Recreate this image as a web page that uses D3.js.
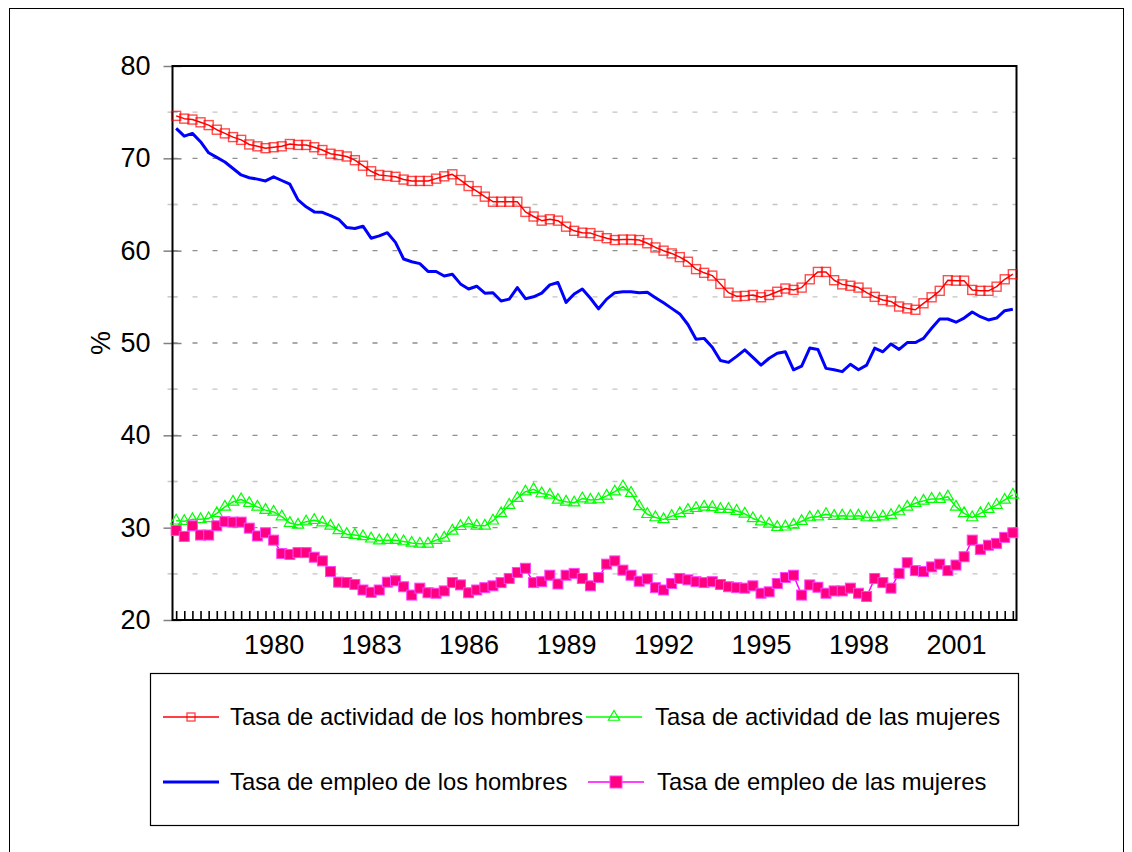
<!DOCTYPE html>
<html lang="es">
<head>
<meta charset="UTF-8">
<title>Tasas de actividad y empleo</title>
<script src="https://d3js.org/d3.v7.min.js"></script>
<style>
    body { margin: 0; background: #fff; }
    svg { display: block; font-family: "Liberation Sans", Arial, sans-serif; }
    .tick-label { font-size: 27px; fill: #000; }
    .legend-label { font-size: 23.8px; fill: #000; }
</style>
</head>
<body>
<div id="chart"></div>
<script>
// quarterly series, 1977-I .. 2002-IV
const firstYear = 1977;
const lastYear = 2002;
const quarterNames = ["I", "II", "III", "IV"];

const yearLabels = ["1980", "1983", "1986", "1989", "1992", "1995", "1998", "2001"];
const yTicks = [20, 30, 40, 50, 60, 70, 80];
const yMinorTicks = [25, 35, 45, 55, 65, 75];

const actHombres = [
    74.6, 74.3, 74.2, 73.9, 73.6, 73.1, 72.7, 72.3, 72.0, 71.5, 71.3, 71.1, 71.2, 71.3, 71.55, 71.45,
    71.45, 71.2, 70.9, 70.5, 70.35, 70.2, 69.8, 69.2, 68.6, 68.2, 68.1, 68.0, 67.7, 67.55, 67.55, 67.55,
    67.8, 68.05, 68.27, 67.65, 67.0, 66.45, 65.85, 65.3, 65.3, 65.3, 65.3, 64.2, 63.7, 63.25, 63.4, 63.25,
    62.6, 62.15, 61.95, 61.9, 61.6, 61.35, 61.15, 61.2, 61.2, 61.15, 60.8, 60.35, 60.0, 59.7, 59.3, 58.8,
    58.0, 57.6, 57.3, 56.4, 55.45, 55.05, 55.1, 55.2, 54.95, 55.2, 55.55, 55.9, 55.75, 56.0, 56.9, 57.7,
    57.7, 56.8, 56.35, 56.2, 56.0, 55.45, 55.0, 54.65, 54.5, 53.95, 53.75, 53.6, 54.3, 54.95, 55.65, 56.8,
    56.75, 56.75, 55.75, 55.65, 55.65, 56.1, 56.9, 57.45
];
const actMujeres = [
    30.75, 30.7, 30.9, 30.9, 31.0, 31.55, 32.25, 32.8, 33.05, 32.65, 32.25, 31.9, 31.7, 31.2, 30.5, 30.3,
    30.65, 30.8, 30.55, 30.2, 29.7, 29.3, 29.2, 29.05, 28.8, 28.6, 28.65, 28.65, 28.5, 28.35, 28.25, 28.25,
    28.65, 28.9, 29.65, 30.15, 30.45, 30.2, 30.2, 30.75, 31.55, 32.45, 33.2, 33.9, 34.15, 33.7, 33.55, 33.0,
    32.8, 32.7, 33.15, 33.0, 33.05, 33.45, 33.9, 34.45, 33.75, 32.3, 31.45, 31.1, 30.9, 31.25, 31.55, 31.9,
    32.1, 32.25, 32.2, 32.0, 32.0, 31.8, 31.5, 31.0, 30.65, 30.4, 30.05, 30.1, 30.3, 30.7, 31.1, 31.2,
    31.45, 31.25, 31.3, 31.25, 31.3, 31.1, 31.1, 31.2, 31.35, 31.75, 32.25, 32.65, 32.9, 33.1, 33.1, 33.35,
    32.25, 31.55, 31.1, 31.55, 32.0, 32.45, 33.0, 33.55
];
const empHombres = [
    73.25, 72.4, 72.7, 71.8, 70.6, 70.1, 69.6, 68.9, 68.2, 67.9, 67.75, 67.55, 68.0, 67.6, 67.2, 65.5,
    64.75, 64.2, 64.15, 63.8, 63.4, 62.5, 62.4, 62.65, 61.35, 61.6, 61.95, 60.9, 59.1, 58.8, 58.6, 57.75,
    57.75, 57.25, 57.45, 56.4, 55.85, 56.15, 55.4, 55.45, 54.55, 54.75, 56.0, 54.8, 55.0, 55.4, 56.3, 56.55,
    54.4, 55.3, 55.85, 54.85, 53.7, 54.75, 55.45, 55.55, 55.55, 55.45, 55.5, 54.9, 54.35, 53.75, 53.15, 52.0,
    50.4, 50.5, 49.55, 48.1, 47.9, 48.55, 49.25, 48.45, 47.6, 48.35, 48.9, 49.05, 47.1, 47.5, 49.45, 49.3,
    47.25, 47.1, 46.9, 47.7, 47.1, 47.6, 49.45, 49.05, 49.9, 49.3, 50.05, 50.05, 50.5, 51.6, 52.6, 52.6,
    52.25, 52.7, 53.35, 52.85, 52.5, 52.7, 53.5, 53.65
];
const empMujeres = [
    29.7, 29.05, 30.2, 29.2, 29.2, 30.2, 30.65, 30.6, 30.6, 29.95, 29.1, 29.45, 28.65, 27.2, 27.1, 27.3,
    27.3, 26.8, 26.4, 25.25, 24.1, 24.05, 23.85, 23.25, 23.0, 23.25, 24.1, 24.25, 23.6, 22.7, 23.45, 22.95,
    22.9, 23.15, 24.05, 23.8, 22.95, 23.25, 23.5, 23.7, 24.05, 24.5, 25.15, 25.6, 24.05, 24.15, 24.85, 23.9,
    24.85, 25.05, 24.5, 23.7, 24.6, 26.05, 26.4, 25.4, 24.85, 24.2, 24.45, 23.5, 23.25, 23.95, 24.5, 24.35,
    24.15, 24.05, 24.15, 23.85, 23.6, 23.5, 23.45, 23.7, 22.9, 23.05, 23.95, 24.6, 24.85, 22.7, 23.8, 23.55,
    22.9, 23.15, 23.15, 23.45, 22.9, 22.55, 24.5, 24.05, 23.45, 25.05, 26.2, 25.35, 25.25, 25.75, 26.05, 25.35,
    25.95, 26.85, 28.65, 27.65, 28.1, 28.3, 28.95, 29.45
];

const quarters = [];
for (let y = firstYear; y <= lastYear; y++) {
    quarterNames.forEach(q => quarters.push(y + "-" + q));
}

const series = [
    { name: "Tasa de actividad de los hombres", values: actHombres, color: "#ff0000", width: 1.5, marker: "openSquare" },
    { name: "Tasa de actividad de las mujeres", values: actMujeres, color: "#00ff00", width: 1.5, marker: "triangle" },
    { name: "Tasa de empleo de los hombres", values: empHombres, color: "#0000ff", width: 3, marker: "none" },
    { name: "Tasa de empleo de las mujeres", values: empMujeres, color: "#ff00ff", width: 1.5, marker: "filledSquare" }
];
// legend order: row 1 = actividad, row 2 = empleo
const legendOrder = [0, 1, 2, 3];

const W = 1132, H = 852;
const plot = { left: 172.5, top: 66, right: 1016.5, bottom: 620 };

const svg = d3.select("#chart").append("svg")
    .attr("width", W)
    .attr("height", H);

svg.append("rect").attr("width", W).attr("height", H).attr("fill", "#fff");

// outer chart frame
svg.append("rect")
    .attr("x", 9.5).attr("y", 8.5)
    .attr("width", 1114).attr("height", 860)
    .attr("fill", "none").attr("stroke", "#000").attr("stroke-width", 1);

const x = d3.scalePoint().domain(quarters).range([plot.left, plot.right]).padding(0.45);
const y = d3.scaleLinear().domain([20, 80]).range([plot.bottom, plot.top]);

// gridlines
svg.append("g")
    .selectAll("line")
    .data(yMinorTicks)
    .join("line")
    .attr("x1", plot.left).attr("x2", plot.right)
    .attr("y1", d => y(d)).attr("y2", d => y(d))
    .attr("stroke", "#c4c4c4").attr("stroke-width", 1.3)
    .attr("stroke-dasharray", "5,15");

svg.append("g")
    .selectAll("line")
    .data(yTicks.filter(d => d > 20 && d < 80))
    .join("line")
    .attr("x1", plot.left).attr("x2", plot.right)
    .attr("y1", d => y(d)).attr("y2", d => y(d))
    .attr("stroke", "#8f8f8f").attr("stroke-width", 1.3)
    .attr("stroke-dasharray", "5,15");

// y axis
const yAxis = svg.append("g")
    .attr("transform", `translate(${plot.left},0)`)
    .call(d3.axisLeft(y).tickValues(yTicks).tickSize(0).tickPadding(22));
yAxis.select(".domain").remove();
yAxis.selectAll("text").attr("class", "tick-label").attr("font-family", null).attr("font-size", null);
yAxis.selectAll(".tick").append("line")
    .attr("x1", -9).attr("x2", 9)
    .attr("stroke", "#808080").attr("stroke-width", 1.5);

svg.append("g")
    .selectAll("line")
    .data(yMinorTicks)
    .join("line")
    .attr("x1", plot.left - 5).attr("x2", plot.left + 5)
    .attr("y1", d => y(d)).attr("y2", d => y(d))
    .attr("stroke", "#c8c8c8").attr("stroke-width", 1.5);

svg.append("text")
    .attr("class", "tick-label")
    .attr("transform", `translate(110,${(plot.top + plot.bottom) / 2}) rotate(-90)`)
    .attr("text-anchor", "middle")
    .text("%");

// x axis
const yearQuarter = yearLabels.map(yr => yr + "-I");
const xAxis = svg.append("g")
    .attr("transform", `translate(0,${plot.bottom})`)
    .call(d3.axisBottom(x).tickSize(-9).tickPadding(15)
        .tickFormat(d => yearQuarter.includes(d) ? d.split("-")[0] : ""));
xAxis.select(".domain").remove();
xAxis.selectAll(".tick line").attr("stroke", "#000").attr("stroke-width", 1.6);
xAxis.selectAll("text").attr("class", "tick-label").attr("font-family", null).attr("font-size", null);

// plot frame
svg.append("rect")
    .attr("x", plot.left).attr("y", plot.top)
    .attr("width", plot.right - plot.left).attr("height", plot.bottom - plot.top)
    .attr("fill", "none").attr("stroke", "#000").attr("stroke-width", 2);

// markers
function drawMarker(g, type, color, size) {
    if (type === "openSquare") {
        g.append("rect")
            .attr("x", -size / 2).attr("y", -size / 2)
            .attr("width", size).attr("height", size)
            .attr("fill", "none").attr("stroke", color)
            .attr("stroke-opacity", 0.7).attr("stroke-width", 1.4);
    } else if (type === "filledSquare") {
        g.append("rect")
            .attr("x", -size / 2).attr("y", -size / 2)
            .attr("width", size).attr("height", size)
            .attr("fill", "#ff0080").attr("stroke", "#ff44ff").attr("stroke-width", 1);
    } else if (type === "triangle") {
        g.append("path")
            .attr("d", d3.symbol(d3.symbolTriangle, size * size * 0.45)())
            .attr("fill", "none").attr("stroke", color).attr("stroke-width", 1.2);
    }
}

const line = d3.line().x((d, i) => x(quarters[i])).y(d => y(d));

const drawOrder = [2, 0, 1, 3];
drawOrder.forEach(si => {
    const s = series[si];
    const g = svg.append("g");
    g.append("path")
        .datum(s.values)
        .attr("d", line)
        .attr("fill", "none")
        .attr("stroke", s.color)
        .attr("stroke-width", s.width)
        .attr("stroke-linejoin", "round");
    if (s.marker !== "none") {
        const size = s.marker === "openSquare" ? 9 : (s.marker === "triangle" ? 11 : 10);
        g.selectAll(".m")
            .data(s.values)
            .join("g")
            .attr("class", "m")
            .attr("transform", (d, i) => `translate(${x(quarters[i])},${y(d)})`)
            .each(function () { drawMarker(d3.select(this), s.marker, s.color, size); });
    }
});

// legend
const legend = { x: 150.5, y: 673.5, w: 868, h: 152 };
svg.append("rect")
    .attr("x", legend.x).attr("y", legend.y)
    .attr("width", legend.w).attr("height", legend.h)
    .attr("fill", "#fff").attr("stroke", "#000").attr("stroke-width", 1.2);

const legendPos = [
    { x: 163, y: 717 }, { x: 586, y: 717 },
    { x: 163, y: 782 }, { x: 588, y: 782 }
];

const items = svg.append("g")
    .selectAll("g")
    .data(legendOrder)
    .join("g")
    .attr("transform", (d, k) => `translate(${legendPos[k].x},${legendPos[k].y})`);

items.each(function (si) {
    const s = series[si];
    const g = d3.select(this);
    g.append("line")
        .attr("x1", 0).attr("x2", 56)
        .attr("stroke", s.color).attr("stroke-width", s.width);
    if (s.marker !== "none") {
        const m = g.append("g").attr("transform", "translate(28,0)");
        const size = s.marker === "openSquare" ? 8 : (s.marker === "triangle" ? 11 : 12);
        drawMarker(m, s.marker, s.color, size);
    }
    g.append("text")
        .attr("class", "legend-label")
        .attr("x", si % 2 === 0 ? 67 : 69)
        .attr("dy", "0.35em")
        .text(s.name);
});
</script>
</body>
</html>
